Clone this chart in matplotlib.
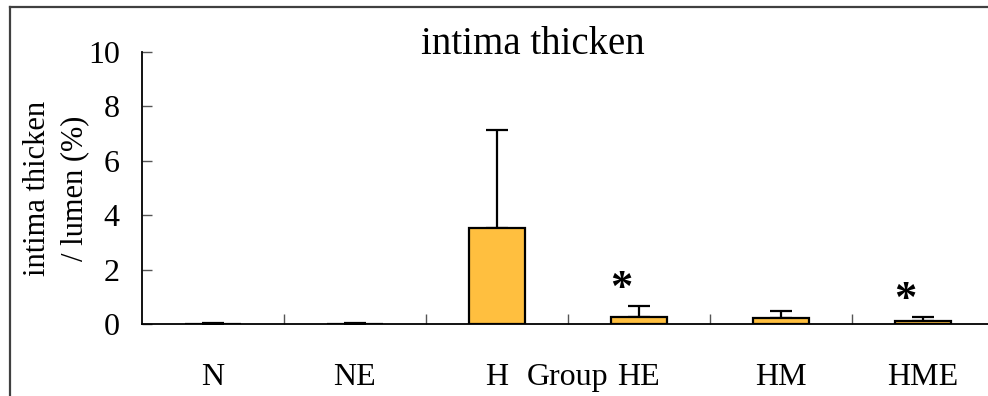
import numpy as np
import matplotlib.pyplot as plt
from matplotlib.lines import Line2D

groups = ['N', 'NE', 'H', 'HE', 'HM', 'HME']
means = [0.0, 0.0, 3.53, 0.27, 0.23, 0.12]
errs = [0.02, 0.02, 3.6, 0.40, 0.25, 0.14]
signif = [False, False, False, True, False, True]

plt.rcParams['font.family'] = ['Liberation Serif', 'DejaVu Serif']

fig = plt.figure(figsize=(9.88, 3.96), dpi=100)
ax = fig.add_axes([142 / 988, 72 / 396, 852 / 988, 272 / 396])

x = np.arange(len(groups))
ax.bar(x, means, width=0.4, color='#FFBF3F', edgecolor='black', linewidth=1.6,
       zorder=3)
ax.errorbar(x, means, yerr=[np.zeros(len(errs)), errs], fmt='none',
            ecolor='black', elinewidth=1.6, capsize=8, capthick=1.6, zorder=2)

for xi, m, e, s in zip(x, means, errs, signif):
    if s:
        ax.annotate('*', (xi, m + e), xytext=(-13, -2), textcoords='offset points',
                    ha='center', va='bottom', fontsize=32, fontweight='bold')

ax.set_xlim(-0.5, len(groups) - 0.5)
ax.set_ylim(0, 10)
ax.set_yticks([0, 2, 4, 6, 8, 10])
ax.tick_params(axis='y', direction='in', length=7, width=1, color='#555555',
               labelsize=23, pad=16)
ax.set_xticks(x)
ax.set_xticklabels(groups)
ax.tick_params(axis='x', which='major', length=0, labelsize=23, pad=28)
ax.set_xticks(x[:-1] + 0.5, minor=True)
ax.tick_params(axis='x', which='minor', direction='in', length=7, width=1,
               color='#555555')
ax.set_xlabel('Group', fontsize=23, va='baseline')
ax.xaxis.set_label_coords(0.5, -0.225)
ax.set_ylabel('intima thicken\n/ lumen (%)', fontsize=22, linespacing=1.35,
              va='center')
ax.yaxis.set_label_coords(-0.101, 0.5)

fig.text(533 / 988, 1 - 45 / 396, 'intima thicken', fontsize=28,
         ha='center', va='center')

for side in ['top', 'right']:
    ax.spines[side].set_visible(False)
for side in ['left', 'bottom']:
    ax.spines[side].set_linewidth(1.3)

# outer chart frame (cut at right and bottom)
fig.add_artist(Line2D([10 / 988, 1], [1 - 7 / 396, 1 - 7 / 396],
                      transform=fig.transFigure, color='#404040', lw=1.6))
fig.add_artist(Line2D([10 / 988, 10 / 988], [0, 1 - 7 / 396],
                      transform=fig.transFigure, color='#404040', lw=1.6))

fig.savefig('out.png', dpi=100)
